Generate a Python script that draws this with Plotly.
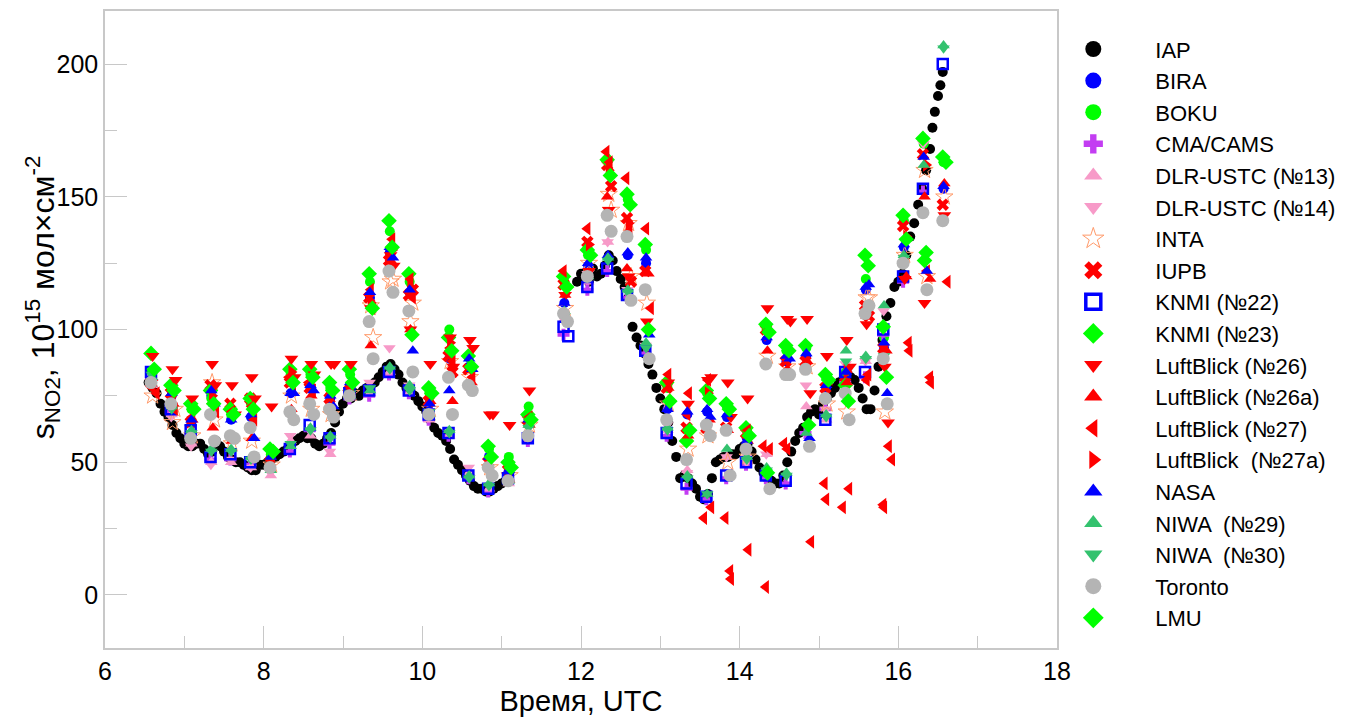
import plotly.graph_objects as go

# ---------------- data ----------------
cycle_t = [6.56, 6.81, 7.06, 7.31, 7.56, 7.81, 8.06, 8.31, 8.56, 8.81,
           9.06, 9.31, 9.56, 9.81, 10.06, 10.31, 10.56, 10.81, 11.06, 11.31,
           11.76, 12.06, 12.31, 12.56, 12.79, 13.06, 13.31, 13.56, 13.81, 14.06,
           14.31, 14.56, 14.81, 15.06, 15.31, 15.56, 15.79, 16.04, 16.29, 16.54]

iap_t = [6.55, 6.60, 6.65, 6.70, 6.75, 6.80, 6.85, 6.90, 6.95, 7.00, 7.05, 7.10, 7.15, 7.20,
         7.25, 7.30, 7.35, 7.40, 7.45, 7.50, 7.55, 7.60, 7.65, 7.70, 7.75, 7.80, 7.85, 7.90,
         7.95, 8.00, 8.05, 8.10, 8.15, 8.20, 8.25, 8.30, 8.35, 8.40, 8.45, 8.50, 8.55, 8.60,
         8.65, 8.70, 8.75, 8.80, 8.85, 8.90, 8.95, 9.00, 9.05, 9.10, 9.15, 9.20, 9.25, 9.30,
         9.35, 9.40, 9.45, 9.50, 9.55, 9.60, 9.65, 9.70, 9.75, 9.80, 9.85, 9.90, 9.95, 10.00,
         10.05, 10.10, 10.15, 10.20, 10.25, 10.30, 10.35, 10.40, 10.45, 10.50, 10.55, 10.60,
         10.65, 10.70, 10.75, 10.80, 10.85, 10.90, 10.95, 11.00, 11.05,
         11.95, 12.00, 12.05, 12.10, 12.15, 12.20, 12.25, 12.30, 12.35, 12.40, 12.45, 12.50,
         12.55, 12.60, 12.65, 12.70, 12.75, 12.80, 12.85, 12.90, 12.95, 13.00, 13.05, 13.10,
         13.15, 13.20, 13.25, 13.30, 13.35, 13.40, 13.45, 13.50, 13.55, 13.60, 13.65, 13.70,
         13.75, 13.80, 13.85, 13.90, 13.95, 14.00, 14.05, 14.10, 14.15, 14.20, 14.25, 14.30,
         14.35, 14.40, 14.45, 14.50, 14.55, 14.60, 14.65, 14.70, 14.75, 14.80, 14.85, 14.90,
         14.95, 15.00, 15.05, 15.10, 15.15, 15.20, 15.25, 15.30, 15.35, 15.40, 15.45, 15.50,
         15.55, 15.60, 15.65, 15.70, 15.75, 15.80, 15.85, 15.90, 15.95, 16.00, 16.05, 16.10,
         16.15, 16.20, 16.25, 16.30, 16.35, 16.40, 16.43, 16.46, 16.50, 16.53, 16.56]
iap_v = [80, 78, 76, 72, 69, 67, 64, 61, 59, 57, 56, 56, 57, 57,
         55, 53, 54, 58, 56, 54, 52, 51, 50, 50, 49, 48, 47, 47,
         49, 49, 50, 51, 52, 53, 54, 55, 57, 58, 59, 60, 59, 59,
         57, 56, 57, 59, 61, 65, 69, 72, 74, 74, 76, 75, 77, 78,
         79, 80, 82, 84, 86, 87, 85, 83, 80, 78, 77, 75, 73, 71,
         69, 66, 63, 61, 60, 58, 55, 51, 49, 47, 45, 43,
         41, 40, 40, 39, 39, 40, 41, 42, 43,
         118, 121, 119, 118, 123, 120, 121, 124, 128, 126, 122, 119,
         116, 112, 101, 97, 94, 91, 87, 83, 78, 74, 70, 65,
         58, 52, 44, 45, 44, 42, 40, 37, 36, 38, 44, 50,
         51, 52, 52, 53, 53, 55, 56, 57, 54, 51, 48, 46,
         44, 43, 42, 42, 45, 50, 54, 58, 61, 63, 67, 69,
         70, 68, 72, 74, 76, 78, 80, 81, 83, 82, 81, 78,
         74, 70, 70, 77, 86, 96, 105, 110, 116, 118, 121, 128,
         135, 140, 147, 153, 160, 168, 176, 182, 188, 192, 197]

N = None
bira = [81, 75, 65, 75, 66, 67, 52, 76, 78, 74, 79, 112, 129, 114, 72, 89, 86, 52, 47, 66,
        110, 124, N, 128, 125, 70, 68, 69, 67, 59, 96, 88, 90, 78, 83, 115, 93, 131, N, 153]
boku = [84, 78, 70, 74, 68, 72, 53, 83, 83, 78, 83, 118, 137, 118, 76, 100, 90, 55, 52, 71,
        118, 128, N, 149, 130, 78, 62, 76, 71, 62, 100, 92, 93, 82, 84, 119, 97, 141, 170, 163]
cma = [82, 69, 60, 51, 51, 49, N, 54, 62, 57, 74, 75, 83, 76, 66, 60, 44, 39, 43, 58,
       98, 115, 122, 112, 91, 60, 40, 36, 44, 49, 44, 42, 61, 70, 80, 82, 98, 118, 152, N]
dlr13 = [79, 68, 57, 50, 50, 48, 45, 58, 60, 53, 75, 76, 84, 76, 66, 60, 46, 40, 42, N,
         104, 118, 133, N, N, 62, 47, N, 52, 53, 53, N, 71, 66, 80, 88, N, N, N, N]
dlr14 = [80, 67, 56, 49, 51, 48, 46, 60, 62, 54, 76, 80, 93, 79, 67, 62, 48, N, N, N,
         N, 121, 133, 115, 94, 64, 46, 63, 52, 50, 53, N, 79, 70, 87, 88, 107, N, 170, N]
inta = [75, 65, 60, 80, 57, 58, 49, 75, 70, 68, 76, 109, 118, 103, 70, 88, 82, 48, 45, 64,
        108, 125, 151, 140, 110, 72, 55, 60, 50, 52, 90, 86, 86, 72, 69, 112, 69, 128, 160, 150]
inta_b = [N, 70, N, 66, N, N, N, N, N, N, N, 97, 119, 110, N, N, N, N, N, N,
          N, N, 145, 120, N, N, N, N, N, N, N, N, N, N, N, 112, N, N, 120, N]
iupb = [80, 76, 65, 79, 72, 74, 50, 80, 78, 74, 77, 112, 126, 113, 73, 90, 85, 50, 47, 66,
        117, 133, 162, 142, 122, 78, 63, 63, 63, 61, 100, 88, 88, 78, 80, 109, 93, 139, 166, 147]
iupb_b = [N, N, N, N, N, N, N, N, N, N, N, N, N, 115, N, 84, N, N, N, N,
          N, N, 154, 118, N, N, N, N, N, N, N, N, N, N, N, 105, N, N, N, N]
knmi22 = [84, 70, 62, 52, 53, 50, N, 55, 64, 59, 76, 77, 84, 77, 68, 61, 45, 40, 44, 59,
          101, 116, 123, 113, 92, 61, 42, 37, 45, 50, 45, 43, N, 66, 84, 84, 100, 120, 153, 200]
knmi22_b = [N, N, N, N, N, N, N, N, N, N, N, N, N, N, N, N, N, N, N, N,
            97.5, N, N, N, N, N, N, N, N, N, N, N, N, N, N, N, N, N, N, N]
knmi23 = [91, 79, 72, 77, 70, 74, 55, 85, 85, 80, 85, 121, 141, 121, 78, 97, 90, 56, 50, 68,
          120, 130, 164, 151, 132, 80, 58, 77, 72, 63, 102, 94, 94, 83, 79, 128, 101, 143, 172, 165]
lb26 = [90, 85, 74, 87, 79, 82, 71, 89, 87, 87, 87, 108, 128, 100, 87, 97, 96, 68, 64, 77,
        113, 122, 145, 120, 103, 80, 72, 81, 80, 74, 108, 104, 104, 90, 96, 102, 86, 119, 110, 143]
lb26_b = [N, 81, N, 79, 68, 74, N, 82, 83, 87, N, N, 124, N, N, 86, 93, 68, N, N,
          N, N, N, N, N, N, N, 82, 67, N, N, 103, 76, N, 86, N, 65, N, N, N]
lb26a_t = [6.58, 6.86, 7.10, 7.36, 7.60, 7.85, 8.35, 8.60, 8.85, 9.35, 9.60, 9.85, 10.10, 10.38,
           10.62, 10.85, 11.35, 11.80, 12.33, 12.58, 12.85, 13.10, 13.35, 13.62, 13.85, 14.10,
           14.35, 14.60, 14.85, 15.10, 15.35, 15.60, 15.85, 16.10, 16.33, 16.40, 16.58]
lb26a_v = [80, 72, 66, 63, 58, 59, 70, 75, 71, 94, 126, 100, 73, 73,
           80, 52, 64, 113, 150, 123, 121, 78, 60, 66, 62, 58,
           92, 85, 88, 80, 80, 105, 92, 120, 150, 119, 155]
lb27_t = [6.60, 6.65, 6.85, 6.88, 7.10, 7.35, 7.40, 7.60, 7.85, 7.88, 8.10, 8.32, 8.37, 8.57,
          8.62, 8.85, 9.10, 9.35, 9.37, 9.62, 9.60, 9.85, 9.88, 10.10, 10.35, 10.38, 10.60,
          10.63, 10.85, 11.10, 11.35,
          11.78, 12.08, 12.32, 12.36, 12.57, 12.61, 12.82, 12.88, 13.10, 13.34, 13.36, 13.55,
          13.64, 13.60, 13.82, 13.88, 13.89, 14.11, 14.10, 14.33, 14.30, 14.38, 14.56, 14.60,
          14.90, 15.07, 15.09, 15.30, 15.38, 15.33, 15.60, 15.62, 15.81, 15.82, 15.88, 15.92,
          16.13, 16.14, 16.36, 16.40, 16.41, 16.62]
lb27_v = [78, 76, 73, 70, 67, 72, 69, 69, 71, 66, 51, 82, 79, 80,
          77, 76, 78, 115, 108, 134, 126, 119, 112, 74, 93, 88, 86,
          82, 51, 48, 67,
          122, 138, 167, 163, 157, 137, 138, 108, 83, 68, 76, 29,
          33, 81, 29, 9, 6, 17, 62, 3, 56, 55, 57, 55,
          20, 42, 36, 33, 40, 76, 81, 83, 34, 33, 56, 51,
          95, 92, 122, 82, 80, 118]
lb27a_t = [6.60, 7.35, 8.35, 9.35, 9.62, 9.85, 10.35, 12.10, 12.35, 12.60, 13.60, 14.35,
           15.35, 16.10, 16.35]
lb27a_v = [81, 75, 84, 110, 130, 116, 95, 132, 160, 140, 76, 98, 84, 135, 162]
nasa = [82, 76, 66, 77, 66, 68, 52, 76, 79, 75, 80, 114, 131, 115, 72, 77, 89, 52, 47, 66,
        110, 125, 128, 129, 127, 70, 69, 70, 68, 58, 97, 90, 91, 79, 84, 116, 95, 132, 165, 154]
nasa_b = [N, N, N, 72, N, 59, N, 76, 77, 71, N, N, 127, 92, N, N, 85, N, N, N,
          N, N, N, N, 98, N, N, 67, N, N, N, 89, 59, N, N, 117, 76, N, 122, N]
niwa29 = [82, 71, 62, 55, 55, 52, 47, 56, 63, 60, 75, 77, 86, 79, 68, 62, 45, 42, 43, 64,
          107, 120, 127, 115, 95, 63, 45, 38, 55, 52, 48, 46, 61, 68, 92, 90, 109, 128, 162, 207]
niwa30 = [83, 70, 61, 54, 54, 51, N, 57, 62, 59, 76, 78, 85, 77, 69, 61, 44, 41, N, 63,
          105, N, 126, 114, 93, 62, 44, 38, N, 51, 47, 45, N, 67, 88, 89, 90, 127, N, 206]
toronto = [80, 72, 59, 68, 60, 63, 48, 69, 72, 70, 75, 103, 122, 107, 68, 82, 79, 48, 43, 60,
           106, 120, 143, 135, 115, 66, 51, 64, 62, 55, 87, 83, 85, 74, 76, 106, 89, 125, 144, 141]
toronto_b = [N, N, N, 58, 59, 52, N, 66, 68, 67, N, 89, 114, 84, N, 68, 77, 45, N, N,
             103, N, 137, 111, 89, N, N, 60, 45, N, 40, 83, 56, N, 66, 109, 72, N, 115, N]
lmu = [85, 77, 70, 72, 68, 70, 54, 80, 82, 77, 80, 108, 131, 98, 76, 92, 86, 52, 48, 66,
       116, 128, 158, 147, 100, 73, 62, 74, 70, 60, 99, 92, 64, 81, 73, 124, 82, 134, 129, 163]
lmu_b = [N, N, N, N, N, N, N, N, N, N, N, N, N, N, N, N, N, N, N, N,
         N, N, N, N, N, N, N, N, N, N, 46, N, N, N, N, N, N, N, 126, N]


def cyc(vals, dt):
    xs, ys = [], []
    for t, v in zip(cycle_t, vals):
        if v is not None:
            xs.append(round(t + dt, 3))
            ys.append(v)
    return xs, ys


def join(*parts):
    xs, ys = [], []
    for px, py in parts:
        xs += px
        ys += py
    return xs, ys


RED = "#ff0000"
BLUE = "#0000ff"
LIME = "#00ff00"
PINK = "#f79ac8"
NIWA = "#33c26e"
GRAY = "#b4b4b4"
STAR = "#ff9a6a"

series = [
    ("IAP", (iap_t, iap_v), dict(symbol="circle", color="#000000", size=10)),
    ("BIRA", cyc(bira, 0.03), dict(symbol="circle", color=BLUE, size=10)),
    ("BOKU", cyc(boku, 0.03), dict(symbol="circle", color=LIME, size=10)),
    ("CMA/CAMS", cyc(cma, 0.02), dict(symbol="cross", color="#c33df2", size=10)),
    ("DLR-USTC (№13)", cyc(dlr13, 0.03), dict(symbol="triangle-up", color=PINK, size=11)),
    ("DLR-USTC (№14)", cyc(dlr14, 0.025), dict(symbol="triangle-down", color=PINK, size=11)),
    ("INTA", join(cyc(inta, 0.04), cyc(inta_b, 0.07)),
     dict(symbol="star-open", color=STAR, size=13, line=dict(width=1, color=STAR))),
    ("IUPB", join(cyc(iupb, 0.02), cyc(iupb_b, 0.07)), dict(symbol="x", color=RED, size=11)),
    ("KNMI (№22)", join(cyc(knmi22, 0.02), cyc(knmi22_b, 0.08)),
     dict(symbol="square-open", color=BLUE, size=10, line=dict(width=2.5, color=BLUE))),
    ("KNMI (№23)", cyc(knmi23, 0.02), dict(symbol="diamond", color=LIME, size=12)),
    ("LuftBlick (№26)", join(cyc(lb26, 0.04), cyc(lb26_b, 0.08)),
     dict(symbol="triangle-down", color=RED, size=12)),
    ("LuftBlick (№26a)", (lb26a_t, lb26a_v), dict(symbol="triangle-up", color=RED, size=11)),
    ("LuftBlick (№27)", (lb27_t, lb27_v), dict(symbol="triangle-left", color=RED, size=12)),
    ("LuftBlick  (№27a)", (lb27a_t, lb27a_v), dict(symbol="triangle-right", color=RED, size=12)),
    ("NASA", join(cyc(nasa, 0.03), cyc(nasa_b, 0.07)), dict(symbol="triangle-up", color=BLUE, size=11)),
    ("NIWA  (№29)", cyc(niwa29, 0.03), dict(symbol="triangle-up", color=NIWA, size=11)),
    ("NIWA  (№30)", cyc(niwa30, 0.03), dict(symbol="triangle-down", color=NIWA, size=11)),
    ("Toronto", join(cyc(toronto, 0.02), cyc(toronto_b, 0.07)), dict(symbol="circle", color=GRAY, size=13)),
    ("LMU", join(cyc(lmu, 0.06), cyc(lmu_b, 0.04)), dict(symbol="diamond", color=LIME, size=12)),
]

fig = go.Figure()
for name, (xs, ys), mk in series:
    fig.add_trace(go.Scatter(x=xs, y=ys, mode="markers", name=name, showlegend=False,
                             marker=mk, hoverinfo="x+y+name"))

# legend entries (bigger symbols, as in the reference legend)
for name, _, mk in series:
    lm = dict(mk)
    lm["size"] = 16
    if mk["symbol"] == "square-open":
        lm["line"] = dict(width=3.5, color=BLUE)
        lm["size"] = 15
    if mk["symbol"] == "star-open":
        lm["line"] = dict(width=1, color=STAR)
    fig.add_trace(go.Scatter(x=[None], y=[None], mode="markers", name=name,
                             marker=lm, showlegend=True))

AX = "#c8c8c8"
# the page body has an 8px margin; margins below compensate so the plot box sits at
# x 105..1057, y 11..648 of the 1362x720 window
fig.update_layout(
    width=1362, height=720,
    margin=dict(l=97, r=313, t=3, b=80),
    paper_bgcolor="white", plot_bgcolor="white",
    font=dict(family="Liberation Sans, Arial, sans-serif", color="#000000", size=22),
    legend=dict(x=0.973, y=0.973, xanchor="left", yanchor="top",
                font=dict(size=22, family="Liberation Sans, Arial, sans-serif"),
                itemwidth=114, bgcolor="rgba(0,0,0,0)"),
    xaxis=dict(range=[6, 18], dtick=2, tick0=6, ticks="inside", ticklen=22, tickcolor=AX,
               tickwidth=1, showline=True, linecolor=AX, linewidth=1.5, mirror=True,
               showgrid=False, zeroline=False, tickfont=dict(size=25), automargin=False,
               minor=dict(dtick=1, ticks="inside", ticklen=12, tickcolor=AX, showgrid=False),
               title=dict(text="Время, UTC", font=dict(size=29), standoff=2)),
    yaxis=dict(range=[-20, 220], dtick=50, tick0=0, ticks="inside", ticklen=22, tickcolor=AX,
               tickwidth=1, showline=True, linecolor=AX, linewidth=1.5, mirror=True,
               showgrid=False, zeroline=False, tickfont=dict(size=25), automargin=False,
               minor=dict(dtick=25, ticks="inside", ticklen=12, tickcolor=AX, showgrid=False)),
    annotations=[dict(text="s<sub>NO2</sub>, 10<sup>15</sup> мол×см<sup>-2</sup>",
                      xref="paper", yref="paper", x=-0.066, y=0.551,
                      xanchor="center", yanchor="middle", textangle=-90, showarrow=False,
                      font=dict(size=32))],
)

fig.write_html("out.html")
